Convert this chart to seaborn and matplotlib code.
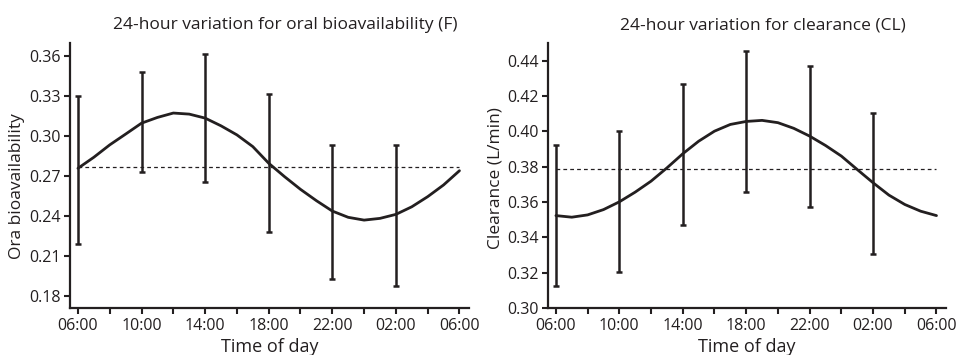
import numpy as np
import matplotlib
matplotlib.use("Agg")
import matplotlib.pyplot as plt
import seaborn as sns

# hours after 06:00
curve_hours = list(range(25))
tick_hours = [0, 4, 8, 12, 16, 20, 24]
tick_labels = ['06:00', '10:00', '14:00', '18:00', '22:00', '02:00', '06:00']
obs_hours = [0, 4, 8, 12, 16, 20]

# oral bioavailability (F)
f_curve = [0.2759, 0.2842, 0.2935, 0.3016, 0.3098, 0.3141, 0.3174, 0.3166, 0.3136,
           0.3078, 0.3010, 0.2922, 0.2797, 0.2696, 0.2601, 0.2516, 0.2438, 0.2391,
           0.2370, 0.2383, 0.2413, 0.2470, 0.2546, 0.2634, 0.2741]
f_upper = [0.3304, 0.3485, 0.3615, 0.3314, 0.2932, 0.2932]
f_lower = [0.2187, 0.2734, 0.2656, 0.2277, 0.1928, 0.1878]
f_mean = 0.2772

# clearance (CL)
cl_curve = [0.3523, 0.3514, 0.3527, 0.3557, 0.3601, 0.3656, 0.3718, 0.3793, 0.3873,
            0.3944, 0.4001, 0.4039, 0.4056, 0.4062, 0.4049, 0.4017, 0.3973, 0.3920,
            0.3860, 0.3784, 0.3709, 0.3639, 0.3586, 0.3548, 0.3523]
cl_upper = [0.3920, 0.4001, 0.4270, 0.4455, 0.4372, 0.4101]
cl_lower = [0.3123, 0.3204, 0.3472, 0.3657, 0.3574, 0.3308]
cl_mean = 0.3788

sns.set_style("ticks")
plt.rcParams['font.family'] = ['Open Sans', 'DejaVu Sans']
ink = '#231f20'
plt.rcParams['text.color'] = ink
plt.rcParams['axes.labelcolor'] = ink
plt.rcParams['xtick.color'] = ink
plt.rcParams['ytick.color'] = ink

fig = plt.figure(figsize=(9.59, 3.55), dpi=100)
ax1 = fig.add_axes([70 / 959, 47 / 355, 399 / 959, 265 / 355])
ax2 = fig.add_axes([548 / 959, 47 / 355, 398 / 959, 265 / 355])


def draw_panel(ax, curve, upper, lower, mean, title, ylabel, ylim, yticks):
    sns.lineplot(x=curve_hours, y=curve, ax=ax, color=ink, lw=2.0)
    upper = np.array(upper)
    lower = np.array(lower)
    mid = (upper + lower) / 2
    ax.errorbar(obs_hours, mid, yerr=[mid - lower, upper - mid], fmt='none',
                ecolor=ink, elinewidth=1.8, capsize=2, capthick=1.8)
    ax.hlines(mean, 0, 24, colors=ink, linestyles=(0, (3, 2.5)), lw=0.9)

    ax.set_xlim(-0.5, 24.6)
    ax.set_ylim(*ylim)
    ax.set_xticks(tick_hours)
    ax.set_xticklabels(tick_labels)
    ax.set_xticks(range(2, 24, 4), minor=True)
    ax.set_yticks(yticks)
    ax.tick_params(axis='both', which='both', length=4, width=1.5, labelsize=11.5, pad=3)
    sns.despine(ax=ax)
    for s in ['left', 'bottom']:
        ax.spines[s].set_linewidth(1.6)
        ax.spines[s].set_color(ink)

    ax.set_title(title, fontsize=12.5, x=0.54, pad=10)
    ax.set_xlabel('Time of day', fontsize=13, labelpad=3)
    ax.set_ylabel(ylabel, fontsize=12.5)


draw_panel(ax1, f_curve, f_upper, f_lower, f_mean,
           '24-hour variation for oral bioavailability (F)', 'Ora bioavailability',
           (0.171, 0.370), [0.18, 0.21, 0.24, 0.27, 0.30, 0.33, 0.36])
ax1.yaxis.set_label_coords(-0.114, 0.46)
ax1.yaxis.set_major_formatter(matplotlib.ticker.FormatStrFormatter('%.2f'))

draw_panel(ax2, cl_curve, cl_upper, cl_lower, cl_mean,
           '24-hour variation for clearance (CL)', 'Clearance (L/min)',
           (0.30, 0.450), [0.30, 0.32, 0.34, 0.36, 0.38, 0.40, 0.42, 0.44])
ax2.yaxis.set_label_coords(-0.112, 0.49)
ax2.yaxis.set_major_formatter(matplotlib.ticker.FormatStrFormatter('%.2f'))

fig.savefig('out.png', dpi=100)
